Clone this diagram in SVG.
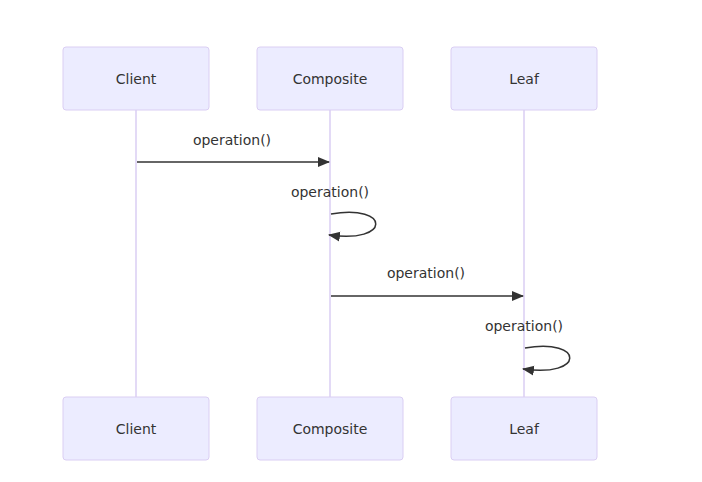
<svg xmlns="http://www.w3.org/2000/svg" width="702" height="482" viewBox="0 0 702 482">
<style>
.actor{fill:#ECECFF;stroke:#DACEF3;stroke-width:1}
.atext{font-family:"Trebuchet MS","DejaVu Sans","Liberation Sans",sans-serif;font-size:14px;fill:#333;text-anchor:middle;dominant-baseline:central}
.life{stroke:#DACEF3;stroke-width:1.5;fill:none}
.msg{stroke:#333;stroke-width:1.5;fill:none;marker-end:url(#arrow)}
.mtext{font-family:"Trebuchet MS","DejaVu Sans","Liberation Sans",sans-serif;font-size:14px;fill:#333;text-anchor:middle;dominant-baseline:central}
</style>
<defs>
<marker id="arrow" viewBox="0 0 12 12" refX="11" refY="6" markerWidth="12" markerHeight="12" markerUnits="userSpaceOnUse" orient="auto">
<path d="M0,1 L12,6 L0,11 z" fill="#333"/>
</marker>
</defs>
<rect width="702" height="482" fill="#fff"/>
<g id="lifelines">
<line class="life" x1="136" y1="110" x2="136" y2="397"/>
<line class="life" x1="330" y1="110" x2="330" y2="397"/>
<line class="life" x1="524" y1="110" x2="524" y2="397"/>
</g>
<g id="client-top"><rect class="actor" x="63" y="47" width="146" height="63" rx="3"/><text class="atext" x="136" y="79">Client</text></g>
<g id="composite-top"><rect class="actor" x="257" y="47" width="146" height="63" rx="3"/><text class="atext" x="330" y="79">Composite</text></g>
<g id="leaf-top"><rect class="actor" x="451" y="47" width="146" height="63" rx="3"/><text class="atext" x="524" y="79">Leaf</text></g>
<g id="client-bottom"><rect class="actor" x="63" y="397" width="146" height="63" rx="3"/><text class="atext" x="136" y="429">Client</text></g>
<g id="composite-bottom"><rect class="actor" x="257" y="397" width="146" height="63" rx="3"/><text class="atext" x="330" y="429">Composite</text></g>
<g id="leaf-bottom"><rect class="actor" x="451" y="397" width="146" height="63" rx="3"/><text class="atext" x="524" y="429">Leaf</text></g>
<g id="connectors">
<line class="msg" x1="137" y1="162" x2="329" y2="162"/>
<text class="mtext" x="232" y="140">operation()</text>
<path class="msg" d="M331,214 C391,204 391,244 329,235"/>
<text class="mtext" x="330" y="192">operation()</text>
<line class="msg" x1="331" y1="296" x2="523" y2="296"/>
<text class="mtext" x="426" y="273">operation()</text>
<path class="msg" d="M525,348 C585,338 585,378 523,369"/>
<text class="mtext" x="524" y="326">operation()</text>
</g>
</svg>
